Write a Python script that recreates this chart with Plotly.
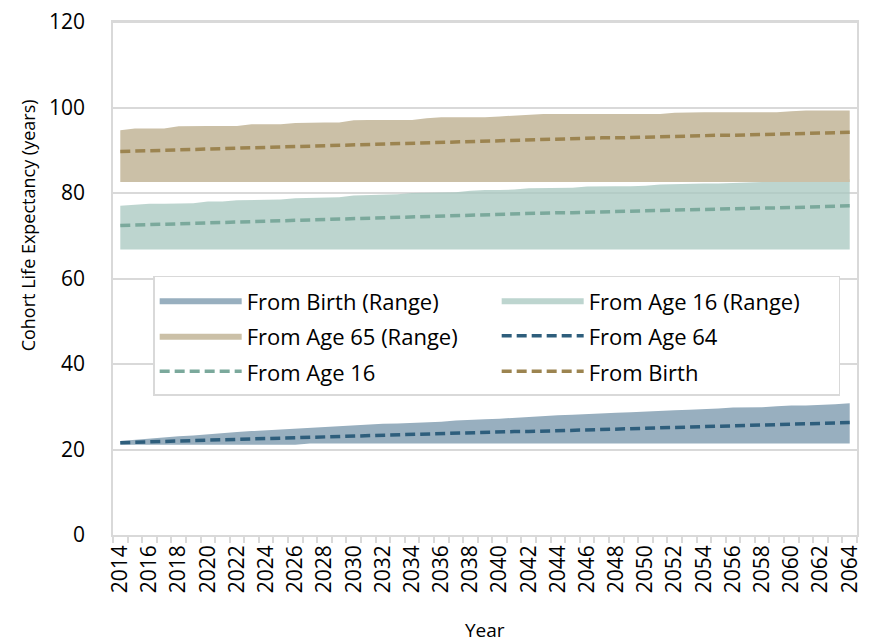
import plotly.graph_objects as go

# 연도 (카테고리)
years = list(range(2014, 2065))
tick_years = list(range(2014, 2065, 2))
tick_labels = [str(y) for y in tick_years]

# From Birth (Range) - 아래쪽 밴드
birth_range_low = [21.1, 21.1, 21.1, 21.1, 21.1, 21.1, 21.1, 21.1, 21.1, 21.1,
                   21.1, 21.1, 21.1, 21.4, 21.4, 21.4, 21.4, 21.4, 21.4, 21.4,
                   21.4, 21.4, 21.4, 21.4, 21.4, 21.4, 21.4, 21.4, 21.4, 21.4,
                   21.4, 21.4, 21.4, 21.4, 21.4, 21.4, 21.4, 21.4, 21.4, 21.4,
                   21.4, 21.4, 21.4, 21.4, 21.4, 21.4, 21.4, 21.4, 21.4, 21.4,
                   21.4]
birth_range_high = [22.0, 22.3, 22.6, 22.8, 23.1, 23.3, 23.6, 23.8, 24.1, 24.3,
                    24.5, 24.7, 24.9, 25.1, 25.3, 25.5, 25.6, 25.8, 26.0, 26.1,
                    26.2, 26.3, 26.5, 26.8, 27.0, 27.1, 27.2, 27.4, 27.6, 27.9,
                    28.0, 28.1, 28.3, 28.5, 28.6, 28.7, 28.9, 29.0, 29.2, 29.3,
                    29.4, 29.6, 29.8, 29.8, 29.9, 30.1, 30.3, 30.3, 30.4, 30.6,
                    30.8]

# From Age 16 (Range)
age16_range_low = [66.8, 66.8, 66.8, 66.8, 66.8, 66.8, 66.8, 66.8, 66.8, 66.8,
                   66.8, 66.8, 66.8, 66.8, 66.8, 66.8, 66.8, 66.8, 66.8, 66.8,
                   66.8, 66.8, 66.8, 66.8, 66.8, 66.8, 66.8, 66.8, 66.8, 66.8,
                   66.8, 66.8, 66.8, 66.8, 66.8, 66.8, 66.8, 66.8, 66.8, 66.8,
                   66.8, 66.8, 66.8, 66.8, 66.8, 66.8, 66.8, 66.8, 66.8, 66.8,
                   66.8]
age16_range_high = [77.0, 77.2, 77.5, 77.5, 77.6, 77.6, 78.0, 78.0, 78.3, 78.4,
                    78.4, 78.5, 78.8, 78.9, 79.0, 79.0, 79.4, 79.5, 79.6, 79.7,
                    80.0, 80.1, 80.2, 80.2, 80.5, 80.7, 80.7, 80.8, 81.1, 81.1,
                    81.2, 81.2, 81.5, 81.6, 81.6, 81.6, 81.7, 82.0, 82.1, 82.1,
                    82.2, 82.2, 82.3, 82.5, 82.6, 82.8, 83.0, 83.0, 83.1, 83.1,
                    83.2]

# From Age 65 (Range)
age65_range_low = [82.6, 82.6, 82.6, 82.6, 82.6, 82.6, 82.6, 82.6, 82.6, 82.6,
                   82.6, 82.6, 82.6, 82.6, 82.6, 82.6, 82.6, 82.6, 82.6, 82.6,
                   82.6, 82.6, 82.6, 82.6, 82.6, 82.6, 82.6, 82.6, 82.6, 82.6,
                   82.6, 82.6, 82.6, 82.6, 82.6, 82.6, 82.6, 82.6, 82.6, 82.6,
                   82.6, 82.6, 82.6, 82.6, 82.6, 82.6, 82.6, 82.6, 82.6, 82.6,
                   82.6]
age65_range_high = [94.7, 95.1, 95.1, 95.1, 95.6, 95.7, 95.7, 95.7, 95.7, 96.1,
                    96.1, 96.1, 96.4, 96.5, 96.5, 96.5, 97.0, 97.1, 97.1, 97.1,
                    97.1, 97.5, 97.7, 97.7, 97.7, 97.7, 97.9, 98.1, 98.2, 98.5,
                    98.5, 98.5, 98.5, 98.5, 98.5, 98.5, 98.5, 98.5, 98.8, 98.9,
                    98.9, 98.9, 98.9, 98.9, 98.9, 98.9, 99.1, 99.3, 99.3, 99.3,
                    99.3]

# 점선 시리즈
from_age64 = [21.6, 21.7, 21.8, 21.9, 22.0, 22.1, 22.2, 22.3, 22.4, 22.5,
              22.5, 22.6, 22.7, 22.8, 22.9, 23.0, 23.1, 23.2, 23.3, 23.4,
              23.5, 23.6, 23.7, 23.8, 23.9, 24.0, 24.1, 24.2, 24.2, 24.3,
              24.4, 24.5, 24.6, 24.7, 24.8, 24.9, 25.0, 25.1, 25.2, 25.3,
              25.4, 25.5, 25.6, 25.7, 25.8, 25.8, 25.9, 26.0, 26.1, 26.2,
              26.3]
from_age16 = [72.4, 72.5, 72.6, 72.8, 72.9, 73.0, 73.1, 73.2, 73.3, 73.4,
              73.5, 73.6, 73.7, 73.8, 73.9, 74.0, 74.1, 74.2, 74.3, 74.4,
              74.5, 74.6, 74.7, 74.8, 74.9, 74.9, 75.0, 75.1, 75.2, 75.3,
              75.4, 75.4, 75.5, 75.6, 75.7, 75.8, 75.8, 75.9, 76.0, 76.1,
              76.2, 76.2, 76.3, 76.4, 76.5, 76.5, 76.6, 76.7, 76.8, 76.9,
              77.0]
from_birth = [89.7, 89.8, 89.9, 90.0, 90.1, 90.2, 90.3, 90.4, 90.5, 90.6,
              90.7, 90.8, 90.9, 91.0, 91.1, 91.2, 91.3, 91.4, 91.5, 91.6,
              91.7, 91.8, 91.9, 92.0, 92.1, 92.2, 92.3, 92.4, 92.5, 92.5,
              92.6, 92.7, 92.8, 92.9, 92.9, 93.0, 93.1, 93.2, 93.2, 93.3,
              93.4, 93.5, 93.5, 93.6, 93.7, 93.8, 93.8, 93.9, 94.0, 94.1,
              94.2]

FONT = 'Open Sans'
GRID = '#D9D9D9'


def legend_name(text):
    # 범례 행 간격을 넓히기 위해 글자만 작게
    return '<span style="font-size:22px">' + text + '</span>'


def add_band(fig, low, high, name, color):
    fig.add_trace(go.Scatter(x=years, y=low, mode='lines', line=dict(width=0),
                             showlegend=False, hoverinfo='skip'))
    fig.add_trace(go.Scatter(x=years, y=high, mode='lines', line=dict(width=0),
                             fill='tonexty', fillcolor=color, name=legend_name(name)))


def add_dash(fig, vals, name, color):
    fig.add_trace(go.Scatter(x=years, y=vals, mode='lines', name=legend_name(name),
                             line=dict(color=color, width=3.5, dash='10px,5px')))


fig = go.Figure()
add_band(fig, birth_range_low, birth_range_high, 'From Birth (Range)', '#98AFBF')
add_band(fig, age16_range_low, age16_range_high, 'From Age 16 (Range)', 'rgba(167,199,191,0.75)')
add_band(fig, age65_range_low, age65_range_high, 'From Age 65 (Range)', '#CBC0A7')
add_dash(fig, from_age64, 'From Age 64', '#2E5E7C')
add_dash(fig, from_age16, 'From Age 16', '#7BA99C')
add_dash(fig, from_birth, 'From Birth', '#9C8450')

fig.update_layout(
    width=880, height=643,
    margin=dict(l=105, r=31, t=14, b=116),
    paper_bgcolor='white', plot_bgcolor='white',
    font=dict(family=FONT, size=21, color='#000000'),
    legend=dict(
        orientation='h', traceorder='normal',
        x=0.054, y=0.505, xanchor='left', yanchor='top',
        entrywidth=245, entrywidthmode='pixels', itemwidth=82,
        bordercolor=GRID, borderwidth=1.5, bgcolor='white',
        font=dict(family=FONT, size=25),
    ),
    annotations=[
        dict(text='Cohort Life Expectancy (years)', xref='paper', yref='paper',
             x=-0.114, y=0.604, xanchor='center', yanchor='middle',
             textangle=-90, showarrow=False, font=dict(size=18)),
        dict(text='Year', xref='paper', yref='paper',
             x=0.5, y=-0.185, xanchor='center', yanchor='middle',
             showarrow=False, font=dict(size=19)),
    ],
    # 플롯 영역 윗선
    shapes=[dict(type='line', xref='paper', yref='paper', x0=0, x1=1, y0=1, y1=1,
                 line=dict(color=GRID, width=2), layer='above')],
)

fig.update_xaxes(
    range=[2013.5, 2064.5],
    tickmode='array', tickvals=tick_years, ticktext=tick_labels,
    tickangle=-90, ticks='',
    minor=dict(tickmode='linear', tick0=2013.5, dtick=1, ticks='outside',
               ticklen=6, tickcolor=GRID, tickwidth=1.5, showgrid=False),
    showgrid=False, showline=True, linecolor=GRID, linewidth=1.5, mirror=True,
    automargin=False,
)

fig.update_yaxes(
    range=[0, 120], dtick=20,
    showgrid=True, gridcolor=GRID, gridwidth=1.5,
    showline=True, linecolor=GRID, linewidth=1.5, mirror='allticks',
    zeroline=False, ticks='', ticklabelstandoff=22,
    ticklabeloverflow='allow',
    automargin=False,
)

fig.write_html('out.html')
